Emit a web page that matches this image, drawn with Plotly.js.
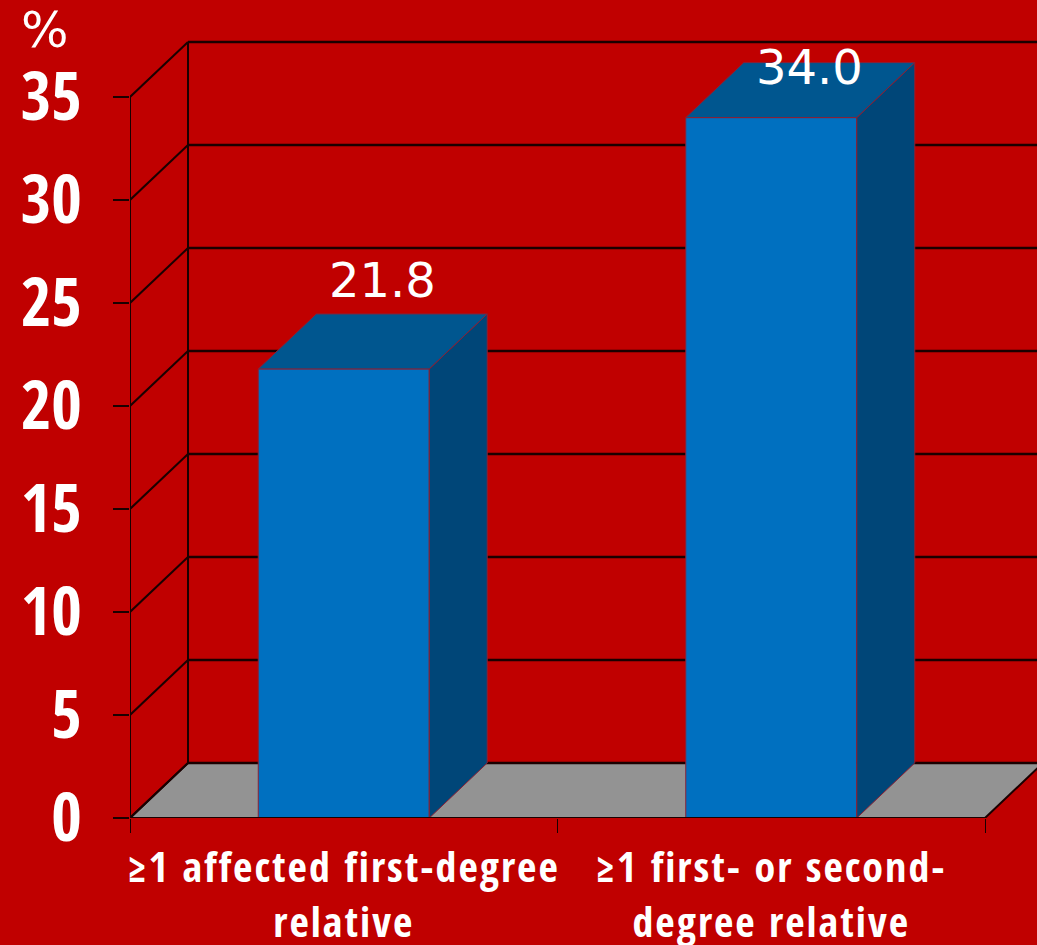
<!DOCTYPE html>
<html><head><meta charset="utf-8">
<script src="https://cdn.plot.ly/plotly-3.0.1.min.js"></script>
<style>
html,body{margin:0;padding:0;background:#C00000;}
#chart .xtick text{letter-spacing:2px;}
</style>
</head><body>
<div id="chart" style="width:1037px;height:945px;"></div>
<script>
// ---- data ----
const categories = ["≥1 affected first-degree<br>relative", "≥1 first- or second-<br>degree relative"];
const values = [21.8, 34.0];
const valueLabels = ["21.8", "34.0"];
const yTickVals = [0, 5, 10, 15, 20, 25, 30, 35];
const yTickText = ["0", "5", "10", "15", "20", "25", "30", "35"];
const unitLabel = "%";

// ---- 3D look parameters (in axis units) ----
const W = 1037, H = 945;
const M = {l: 130, r: 0, t: 20, b: 127};
const pxPerX = 427.5, pxPerY = 20.6;
const xMin = -0.5, xMax = xMin + (W - M.l - M.r) / pxPerX;
const yMax = (H - M.t - M.b) / pxPerY;
const DX = 58 / pxPerX, DY = 55 / pxPerY;   // depth offset
const BW = 0.4;                              // bar width
const xs = categories.map((c, i) => i);
const frontRight = xs.length - 0.5;
const wallTop = yTickVals[yTickVals.length - 1];

const FRONT = '#0070C0', TOP = '#00568F', SIDE = '#004678', EDGE = '#8B2035';
const GRID = '#1a0000', FLOOR = '#939393', BG = '#C00000';

const shapes = [];
// floor
shapes.push({type: 'path', xref: 'x', yref: 'y', layer: 'below',
  path: `M ${xMin},0 L ${frontRight},0 L ${frontRight + DX},${DY} L ${xMin + DX},${DY} Z`,
  fillcolor: FLOOR, line: {color: GRID, width: 2}});
// back wall grid + left wall diagonals
yTickVals.forEach(v => {
  shapes.push({type: 'line', xref: 'x', yref: 'y', layer: 'below',
    x0: xMin + DX, x1: frontRight + DX + 0.5, y0: v + DY, y1: v + DY,
    line: {color: GRID, width: 2.5}});
  shapes.push({type: 'line', xref: 'x', yref: 'y', layer: 'below',
    x0: xMin, x1: xMin + DX, y0: v, y1: v + DY,
    line: {color: GRID, width: 2}});
});
// back wall vertical edge
shapes.push({type: 'line', xref: 'x', yref: 'y', layer: 'below',
  x0: xMin + DX, x1: xMin + DX, y0: DY, y1: wallTop + DY, line: {color: GRID, width: 2}});
// front axis lines
shapes.push({type: 'line', xref: 'x', yref: 'y', layer: 'above',
  x0: xMin, x1: frontRight, y0: 0, y1: 0, line: {color: GRID, width: 2}});
shapes.push({type: 'line', xref: 'x', yref: 'y', layer: 'above',
  x0: xMin, x1: xMin, y0: 0, y1: wallTop, line: {color: GRID, width: 2}});

const traces = [];
// front faces
traces.push({type: 'bar', x: xs, y: values, width: BW,
  marker: {color: FRONT, line: {color: EDGE, width: 1}}, hoverinfo: 'skip'});
// side and top faces
values.forEach((v, i) => {
  const r = xs[i] + BW / 2, l = xs[i] - BW / 2;
  traces.push({type: 'scatter', mode: 'lines', fill: 'toself', fillcolor: SIDE,
    line: {color: EDGE, width: 1}, hoverinfo: 'skip',
    x: [r, r + DX, r + DX, r, r], y: [0, DY, v + DY, v, 0]});
  traces.push({type: 'scatter', mode: 'lines', fill: 'toself', fillcolor: TOP,
    line: {color: EDGE, width: 1}, hoverinfo: 'skip',
    x: [l, r, r + DX, l + DX, l], y: [v, v, v + DY, v + DY, v]});
});

const annotations = values.map((v, i) => ({
  x: xs[i] + 0.09, y: Math.min(v + 4.3, 36.46), xref: 'x', yref: 'y',
  text: valueLabels[i], showarrow: false, xanchor: 'center', yanchor: 'middle',
  font: {family: 'DejaVu Sans', size: 48, color: '#ffffff'}
}));
annotations.push({x: (45 - M.l) / (W - M.l - M.r), y: (H - M.b - 30) / (H - M.t - M.b),
  xref: 'paper', yref: 'paper', text: unitLabel, showarrow: false,
  xanchor: 'center', yanchor: 'middle',
  font: {family: 'DejaVu Sans', size: 50, color: '#ffffff'}});

const layout = {
  width: W, height: H, margin: M,
  paper_bgcolor: BG, plot_bgcolor: 'rgba(0,0,0,0)',
  showlegend: false, bargap: 0,
  xaxis: {range: [xMin, xMax], tickmode: 'array', tickvals: xs, ticktext: categories,
    ticks: '', showgrid: false, zeroline: false, showline: false, tickangle: 0,
    ticklabelstandoff: 21, automargin: false,
    tickfont: {family: "'Open Sans Condensed', 'Roboto Condensed', sans-serif", size: 42, weight: 'bold', color: '#ffffff'}},
  xaxis2: {overlaying: 'x', range: [xMin, xMax], tickmode: 'array',
    tickvals: [xMin, 0.5, frontRight], showticklabels: false, ticks: 'outside',
    ticklen: 14, tickwidth: 1, tickcolor: GRID, showgrid: false, zeroline: false, showline: false,
    side: 'bottom', anchor: 'y'},
  yaxis: {range: [0, yMax], tickmode: 'array', tickvals: yTickVals, ticktext: yTickText,
    ticks: 'outside', ticklen: 16, tickwidth: 2, tickcolor: GRID,
    showgrid: false, zeroline: false, showline: false, ticklabelstandoff: 18,
    tickfont: {family: "'Open Sans Condensed', 'Roboto Condensed', sans-serif", size: 66, weight: 'bold', color: '#ffffff'}},
  shapes: shapes, annotations: annotations
};
// invisible point so that the tick-mark axis (x2) is drawn
traces.push({type: 'scatter', x: [xMin], y: [0], xaxis: 'x2', mode: 'markers',
  marker: {opacity: 0}, hoverinfo: 'skip'});

Plotly.newPlot('chart', traces, layout, {staticPlot: true});
</script>
</body></html>
